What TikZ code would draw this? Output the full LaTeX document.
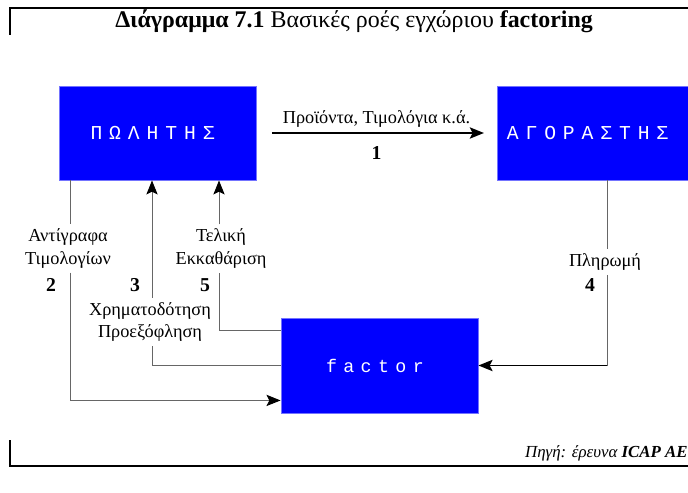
\documentclass[tikz,border=0pt]{standalone}
\usepackage{fontspec}
\setmainfont{Liberation Serif}
\newfontfamily\boxfont[LetterSpace=35]{Liberation Mono}
\newfontfamily\factorfont[LetterSpace=35]{Liberation Mono}
\usetikzlibrary{arrows.meta}
\usetikzlibrary{calc}

\tikzset{
	party/.style={fill=blue, draw=blue!55!white, line width=0.6pt, text=white, minimum width=4.925cm, minimum height=2.35cm, inner sep=0pt},
	flow/.style={draw=black!60, line width=0.7pt},
	flowhead/.style={-{Stealth[length=10pt,width=8pt,inset=2pt,color=black]}},
	heavy/.style={draw=black, line width=1.4pt},
	lbl/.style={align=center, inner sep=3pt, font=\fontsize{13}{16}\selectfont},
	num/.style={inner sep=0pt, font=\bfseries\fontsize{14}{14}\selectfont},
}

\begin{document}
\begin{tikzpicture}[x=0.025cm,y=-0.025cm]
	\useasboundingbox (0,0) rectangle (688,492);

	%Frame
	\draw[line width=1.2pt] (10,35) -- (10,8) -- (688,8);
	\draw[line width=1.2pt] (10,440) -- (10,466) -- (688,466);

	%Title
	\node (title) at (354,21) {\fontsize{17}{17}\selectfont\textbf{Διάγραμμα 7.1} Βασικές ροές εγχώριου \textbf{factoring}};

	%Parties
	\node[party] (seller) at (157.5,133) {\boxfont\fontsize{14}{14}\selectfont ΠΩΛΗΤΗΣ\kern0.5em};
	\node[party, minimum width=4.775cm] (buyer) at (592.5,133) {\boxfont\fontsize{14}{14}\selectfont ΑΓΟΡΑΣΤΗΣ\kern0.5em};
	\node[party, minimum height=2.375cm] (factor) at (379.5,365.5) {\factorfont\fontsize{13}{13}\selectfont factor\kern0.5em};

	%Flow labels
	\node[lbl] (l2) at (68,248.5) {Αντίγραφα\\Τιμολογίων};
	\node[lbl] (l3) at (150,322) {Χρηματοδότηση\\Προεξόφληση};
	\node[lbl] (l5) at (221,248.5) {Τελική\\Εκκαθάριση};
	\node[lbl] (l4) at (605,262) {Πληρωμή};
	\node[num] (n2) at (51,285) {2};
	\node[num] (n3) at (135,285) {3};
	\node[num] (n5) at (205,285) {5};
	\node[num] (n4) at (590,285) {4};

	%Line positions
	\coordinate (x2) at (70,0);
	\coordinate (x3) at (152,0);
	\coordinate (x5) at (219,0);
	\coordinate (x4) at (607,0);

	%1
	\draw[heavy, flowhead, shorten <=11pt, shorten >=9pt] (seller) -- (buyer)
		node[midway, above=0pt, lbl] (l1) {Προϊόντα, Τιμολόγια κ.ά.}
		node[midway, below=9pt, num] (n1) {1};

	%2
	\draw[flow] (seller.south -| x2) -- (l2.north -| x2);
	\draw[flow, flowhead] (l2.south -| x2) |- ($(factor.south west)+(0,-13)$);

	%3
	\draw[flow] (factor.west) -| (l3.south -| x3);
	\draw[flow, flowhead] (l3.north -| x3) -- (seller.south -| x3);

	%5
	\draw[flow] ($(factor.north west)+(0,13)$) -| (l5.south -| x5);
	\draw[flow, flowhead] (l5.north -| x5) -- (seller.south -| x5);

	%4
	\draw[flow] (buyer.south -| x4) -- (l4.north -| x4);
	\draw[flow] (l4.south -| x4) -- (factor.east -| x4);
	\draw[heavy, flowhead] (factor.east -| x4) -- (factor.east);

	%Source
	\node[anchor=east, inner sep=0pt] (src) at (688,453) {\fontsize{12}{12}\selectfont\itshape Πηγή: έρευνα \textbf{ICAP ΑΕ}};
\end{tikzpicture}
\end{document}
